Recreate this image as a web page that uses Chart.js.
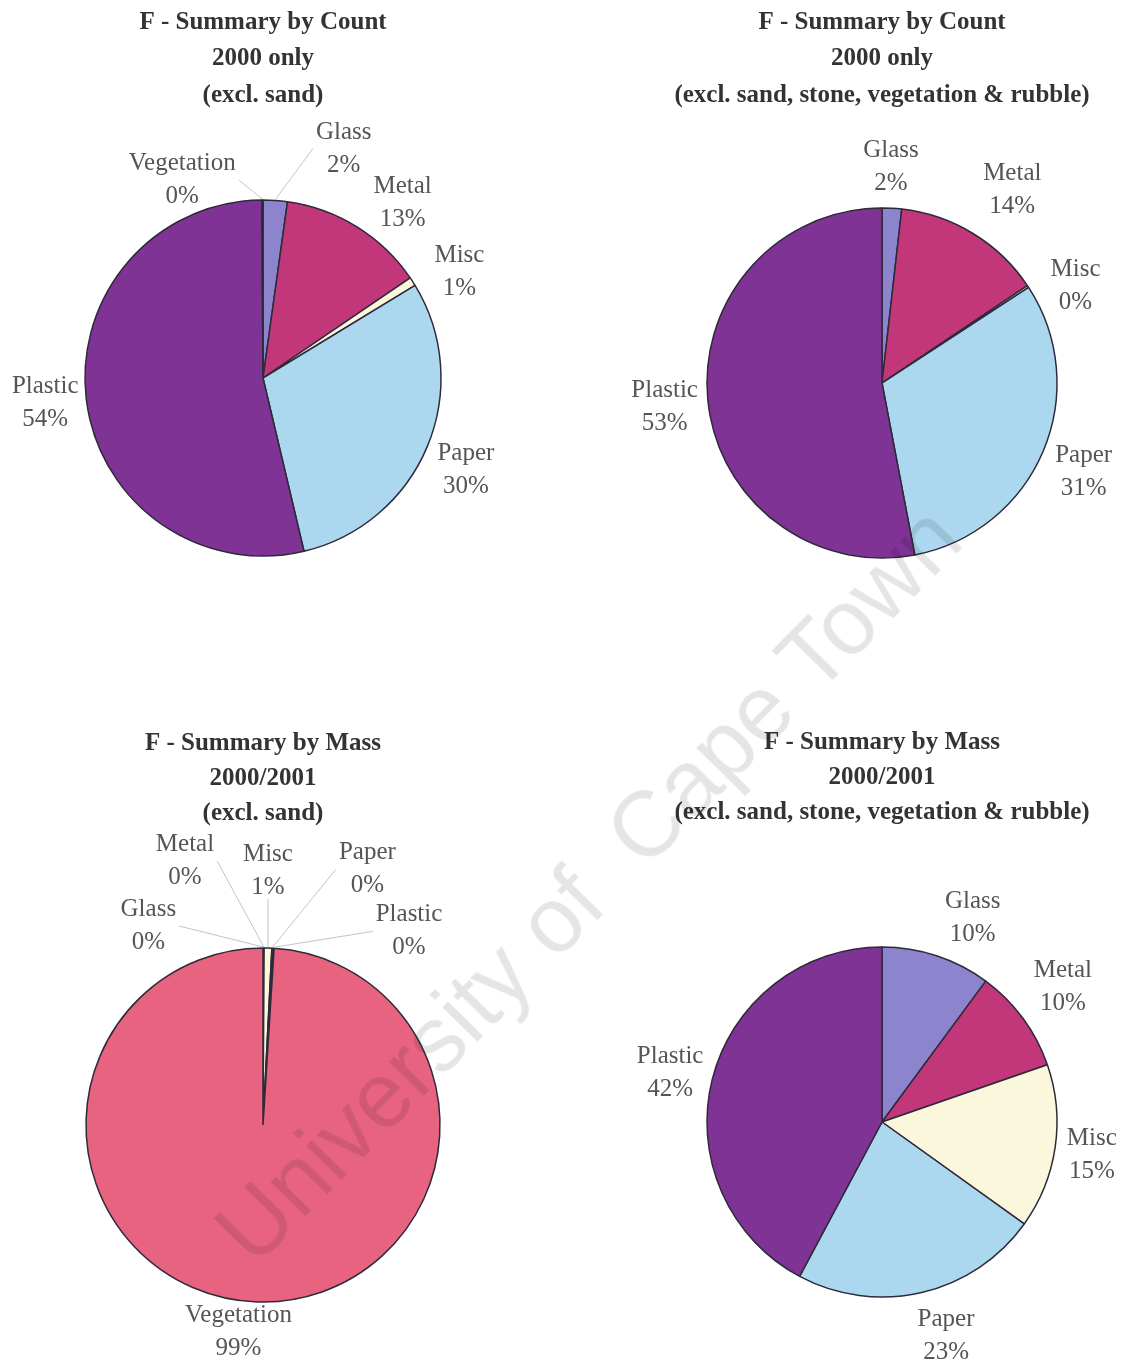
<!DOCTYPE html>
<html>
<head>
<meta charset="utf-8">
<script src="https://cdn.jsdelivr.net/npm/chart.js@4/dist/chart.umd.min.js"></script>
<style>
  html, body { margin: 0; padding: 0; background: #fff; }
  body { width: 1121px; height: 1363px; position: relative; overflow: hidden; }
  canvas { position: absolute; }
  #c1 { left: 0; top: 0; }
  #c2 { left: 560px; top: 0; }
  #c3 { left: 0; top: 680px; }
  #c4 { left: 560px; top: 680px; }
  .watermark {
    position: absolute; left: 588px; top: 884px;
    transform: translate(-50%, -50%) rotate(-45.5deg);
    font: 92px "Liberation Sans", Arial, sans-serif;
    color: rgba(0, 0, 0, 0.1);
    white-space: pre; pointer-events: none;
  }
</style>
</head>
<body>
<canvas id="c1" width="560" height="680"></canvas>
<canvas id="c2" width="561" height="680"></canvas>
<canvas id="c3" width="560" height="683"></canvas>
<canvas id="c4" width="561" height="683"></canvas>
<div class="watermark">University of  Cape Town</div>

<script>
// categories
const sixCats = ['Glass', 'Metal', 'Misc', 'Paper', 'Plastic', 'Vegetation'];
const fiveCats = ['Glass', 'Metal', 'Misc', 'Paper', 'Plastic'];

// shares in %
const countExclSand = [2.2, 13.3, 0.8, 30.0, 53.6, 0.1];
const countExclAll = [1.8, 13.8, 0.2, 31.2, 53.0];
const massExclSand = [0.05, 0.05, 0.7, 0.1, 0.1, 99.0];
const massExclAll = [10.1, 9.6, 15.2, 22.9, 42.2];

const colours = {
    Glass: '#8c84cc',
    Metal: '#c2367a',
    Misc: '#fbf7dc',
    Paper: '#acd8ef',
    Plastic: '#7f3394',
    Vegetation: '#e8637f'
};

const serif = '"Liberation Serif", "Times New Roman", serif';
Chart.defaults.font.family = serif;

// labels outside the pie: name + rounded percentage
const pieLabels = {
    id: 'pieLabels',
    afterDraw(chart, args, opts) {
        let ctx = chart.ctx;
        let meta = chart.getDatasetMeta(0);
        let data = chart.data.datasets[0].data;
        let total = data.reduce((a, b) => a + b, 0);
        ctx.save();
        ctx.font = '25px ' + serif;
        ctx.textAlign = 'center';
        ctx.textBaseline = 'middle';
        meta.data.forEach((arc, i) => {
            let p = arc.getProps(['x', 'y', 'startAngle', 'endAngle', 'outerRadius'], true);
            let mid = (p.startAngle + p.endAngle) / 2;
            let dx = Math.cos(mid), dy = Math.sin(mid);
            let name = chart.data.labels[i];
            let pct = Math.round(data[i] / total * 100) + '%';
            let hw = Math.max(ctx.measureText(name).width, ctx.measureText(pct).width) / 2;
            let hh = 28;
            let r = p.outerRadius + 8;
            let n = opts.nudge[i] || [0, 0];
            let cx = p.x + r * dx + dx * hw + n[0];
            let cy = p.y + r * dy + dy * hh + n[1];

            // thin grey leader for the crowded small slices
            if (opts.leaders[i]) {
                let ax = p.x + (p.outerRadius + 1) * dx;
                let ay = p.y + (p.outerRadius + 1) * dy;
                let ex, ey;
                if (ax < cx - hw) { ex = cx - hw - 3; ey = cy; }
                else if (ax > cx + hw) { ex = cx + hw + 3; ey = cy; }
                else { ex = cx; ey = cy + hh; }
                ctx.strokeStyle = '#c4c4c4';
                ctx.lineWidth = 1;
                ctx.beginPath();
                ctx.moveTo(ex, ey);
                ctx.lineTo(ax, ay);
                ctx.stroke();
            }

            ctx.fillStyle = '#555';
            ctx.fillText(name, cx, cy - 16.5);
            ctx.fillText(pct, cx, cy + 16.5);
        });
        ctx.restore();
    }
};

function makePie(id, cats, values, title, radius, layoutPad, titlePad, lineHeight, nudge, leaders) {
    return new Chart(document.getElementById(id), {
        type: 'pie',
        data: {
            labels: cats,
            datasets: [{
                data: values,
                backgroundColor: cats.map(c => colours[c]),
                borderColor: '#2e2a3a',
                borderWidth: 1.5,
                radius: radius
            }]
        },
        options: {
            responsive: false,
            animation: false,
            layout: { padding: layoutPad },
            plugins: {
                legend: { display: false },
                tooltip: { enabled: false },
                title: {
                    display: true,
                    text: title,
                    color: '#333',
                    font: { family: serif, size: 25, weight: 'bold', lineHeight: lineHeight },
                    padding: titlePad
                },
                pieLabels: { nudge: nudge, leaders: leaders }
            }
        },
        plugins: [pieLabels]
    });
}

makePie('c1', sixCats, countExclSand,
    ['F - Summary by Count', '2000 only', '(excl. sand)'],
    178, { left: 0, right: 34, top: 0, bottom: 37.5 }, { top: 4, bottom: 0 }, 1.46,
    [[66, -16], [26, 7], [19, 10], [5, 9], [0, -1], [-80, 16]],
    [true, false, false, false, false, true]);

makePie('c2', fiveCats, countExclAll,
    ['F - Summary by Count', '2000 only', '(excl. sand, stone, vegetation & rubble)'],
    175, { left: 83, right: 0, top: 0, bottom: 27.5 }, { top: 4, bottom: 0 }, 1.46,
    [[-3, -5], [20, -13], [20, 19], [7, 6], [-2, 4]],
    [false, false, false, false, false]);

makePie('c3', sixCats, massExclSand,
    ['F - Summary by Mass', '2000/2001', '(excl. sand)'],
    177, { left: 0, right: 34, top: 0, bottom: 0 }, { top: 46.5, bottom: 55.5 }, 1.4,
    [[-115, 14], [-79, -51], [-1, -41], [93, -43], [133, 19], [-17, -6]],
    [true, true, true, true, true, false]);

makePie('c4', fiveCats, massExclAll,
    ['F - Summary by Mass', '2000/2001', '(excl. sand, stone, vegetation & rubble)'],
    175, { left: 83, right: 0, top: 0, bottom: 0 }, { top: 45.5, bottom: 50.5 }, 1.4,
    [[25, -4], [10, -10], [4, 3], [16, 8], [-2, 2]],
    [false, false, false, false, false]);
</script>
</body>
</html>
